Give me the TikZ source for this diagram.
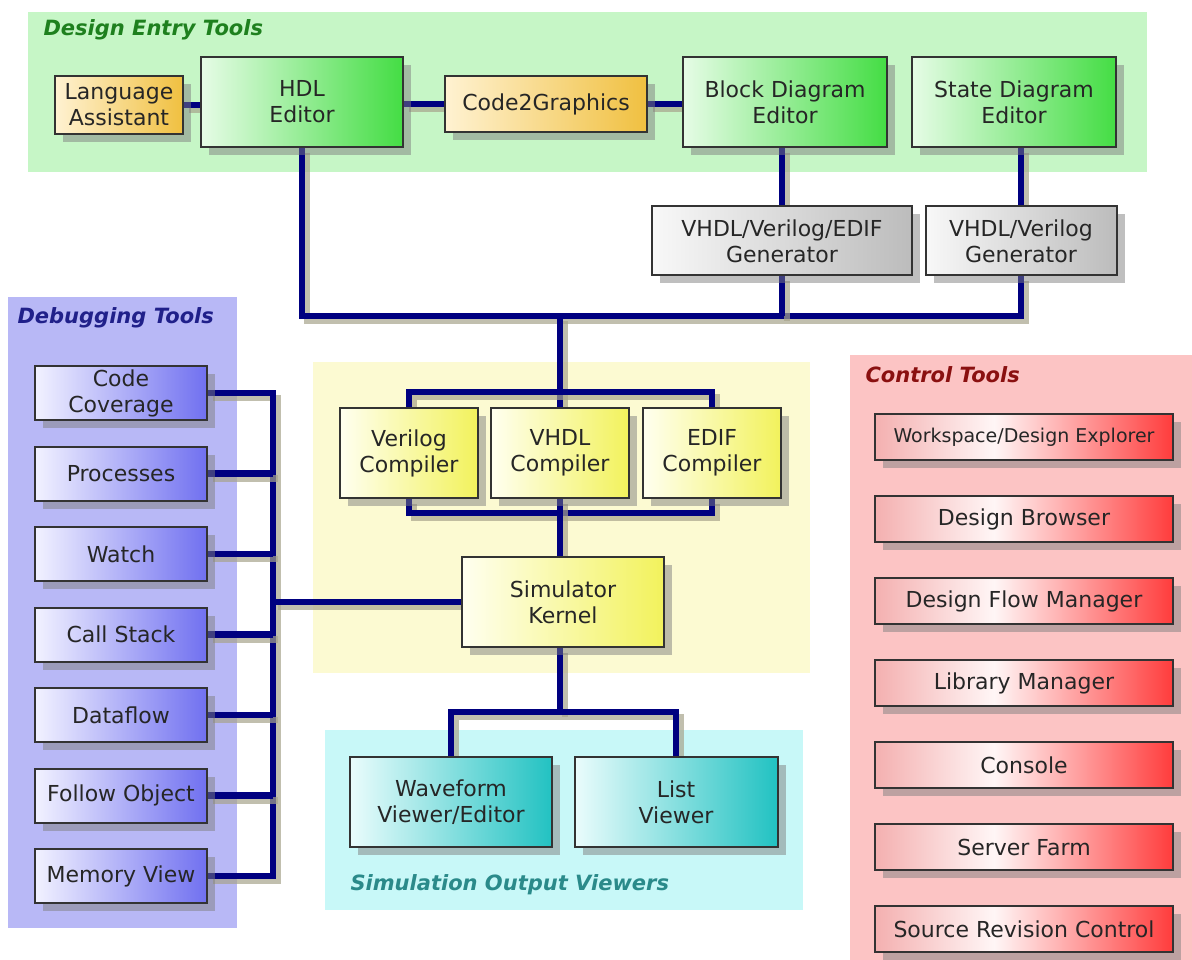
\documentclass[tikz,border=0pt]{standalone}
\usepackage{fontspec}
\setmainfont{DejaVu Sans}
\usetikzlibrary{shadows}

\pgfdeclarelayer{panels}
\pgfdeclarelayer{wires}
\pgfsetlayers{panels,wires,main}

\definecolor{wirecol}{HTML}{000080}
\definecolor{wireshd}{HTML}{A8A48C}
\definecolor{entrybg}{HTML}{C6F6C6}
\definecolor{debugbg}{HTML}{B8B8F6}
\definecolor{compbg}{HTML}{FCFAD2}
\definecolor{viewbg}{HTML}{C8F8F8}
\definecolor{ctrlbg}{HTML}{FCC4C4}
\definecolor{entryfg}{HTML}{1E801E}
\definecolor{debugfg}{HTML}{20208A}
\definecolor{viewfg}{HTML}{2A8A8A}
\definecolor{ctrlfg}{HTML}{8A1010}
\definecolor{grnL}{HTML}{E6FCE6}
\definecolor{grnR}{HTML}{44DD44}
\definecolor{orgL}{HTML}{FFF2D2}
\definecolor{orgR}{HTML}{F0C040}
\definecolor{grayL}{HTML}{F8F8F8}
\definecolor{grayR}{HTML}{BCBCBC}
\definecolor{ylwL}{HTML}{FFFFF0}
\definecolor{ylwR}{HTML}{F2F25C}
\definecolor{cynL}{HTML}{EAFCFC}
\definecolor{cynR}{HTML}{22C2C2}
\definecolor{bluL}{HTML}{F2F2FF}
\definecolor{bluR}{HTML}{7070F0}
\definecolor{redL}{HTML}{F4B0B0}
\definecolor{redM}{HTML}{FFF6F6}
\definecolor{redR}{HTML}{FF3C3C}

% white spot at about 40% of the width
\pgfdeclarehorizontalshading{redshade}{100bp}{color(0bp)=(redL); color(25bp)=(redL);
    color(45bp)=(redM); color(75bp)=(redR); color(100bp)=(redR)}

\begin{document}
\begin{tikzpicture}[x=1pt, y=-1pt,
    box/.style={draw=black!80, line width=2pt, align=center, inner sep=0pt,
        font=\fontsize{22}{26}\selectfont, text=black!85,
        drop shadow={shadow xshift=8pt, shadow yshift=-8pt, fill=black!50, opacity=0.5}},
    greenbox/.style={box, left color=grnL, right color=grnR},
    orangebox/.style={box, left color=orgL, right color=orgR},
    graybox/.style={box, left color=grayL, right color=grayR},
    yellowbox/.style={box, left color=ylwL, right color=ylwR,
        minimum width=138pt, minimum height=90pt},
    cyanbox/.style={box, left color=cynL, right color=cynR,
        minimum width=202pt, minimum height=90pt},
    bluebox/.style={box, left color=bluL, right color=bluR,
        minimum width=172pt, minimum height=54pt},
    redbox/.style={box, shading=redshade,
        minimum width=298pt, minimum height=46pt},
    wire/.style={draw=wirecol, line width=6.5pt, line join=miter,
        preaction={draw=wireshd, line width=6.5pt, opacity=0.7,
            transform canvas={shift={(5pt,-5pt)}}}},
    title/.style={anchor=west, font=\fontsize{21}{24}\selectfont\bfseries\itshape}
]
\useasboundingbox (0,0) rectangle (1192,960);

% panels
\begin{pgfonlayer}{panels}
    \fill[white] (0,0) rectangle (1192,960);
    \fill[entrybg] (28,12) rectangle (1147,172);
    \fill[debugbg] (8,297) rectangle (237,928);
    \fill[compbg] (313,362) rectangle (810,673);
    \fill[viewbg] (325,730) rectangle (803,910);
    \fill[ctrlbg] (850,355) rectangle (1192,960);
\end{pgfonlayer}

\node[title, text=entryfg] (entrytitle) at (40,30) {Design Entry Tools};
\node[title, text=debugfg] (debugtitle) at (14,318) {Debugging Tools};
\node[title, text=ctrlfg] (ctrltitle) at (862,375) {Control Tools};
\node[title, text=viewfg] (viewtitle) at (347,885) {Simulation Output Viewers};

% design entry tools
\node[orangebox, minimum width=128pt, minimum height=58pt] (lang) at (119,105) {Language\\Assistant};
\node[greenbox, minimum width=202pt, minimum height=90pt] (hdl) at (302,102) {HDL\\Editor};
\node[orangebox, minimum width=202pt, minimum height=56pt] (c2g) at (546,104) {Code2Graphics};
\node[greenbox, minimum width=204pt, minimum height=90pt] (bde) at (785,102) {Block Diagram\\Editor};
\node[greenbox, minimum width=204pt, minimum height=90pt] (sde) at (1014,102) {State Diagram\\Editor};

% generators
\node[graybox, minimum width=260pt, minimum height=69pt] (gen1) at (782,241) {VHDL/Verilog/EDIF\\Generator};
\node[graybox, minimum width=191pt, minimum height=69pt] (gen2) at (1021,241) {VHDL/Verilog\\Generator};

% compilers and kernel
\node[yellowbox] (verc) at (409,453) {Verilog\\Compiler};
\node[yellowbox] (vhdlc) at (560,453) {VHDL\\Compiler};
\node[yellowbox] (edifc) at (712,453) {EDIF\\Compiler};
\node[yellowbox, minimum width=202pt] (sim) at (563,602) {Simulator\\Kernel};

% output viewers
\node[cyanbox] (wave) at (451,802) {Waveform\\Viewer/Editor};
\node[cyanbox, minimum width=203pt] (list) at (676,802) {List\\Viewer};

% debugging tools
\foreach \name/\txt [count=\i from 0] in {cov/{Code\\Coverage}, proc/Processes, watch/Watch,
        stack/Call Stack, flow/Dataflow, follow/Follow Object, mem/Memory View}
    \node[bluebox] (\name) at (121,{393+80.5*\i}) {\txt};

% control tools
\foreach \name/\txt [count=\i from 0] in {wsp/{\fontsize{19}{22}\selectfont Workspace/Design Explorer},
        browser/Design Browser, flowmgr/Design Flow Manager, libmgr/Library Manager,
        console/Console, farm/Server Farm, src/Source Revision Control}
    \node[redbox] (\name) at (1024,{437+82*\i}) {\txt};

% connectors
\begin{pgfonlayer}{wires}
    \coordinate (bus) at (560,316);
    \coordinate (dbus) at (273,600);

    \draw[wire] (lang.east) -- (lang.east -| hdl.west);
    \draw[wire] (hdl.east |- c2g) -- (c2g.west);
    \draw[wire] (c2g.east) -- (c2g.east -| bde.west);
    \draw[wire] (bde.south -| gen1.north) -- (gen1.north);
    \draw[wire] (gen2.north |- sde.south) -- (gen2.north);

    \draw[wire] (hdl.south) |- (gen2.south |- bus) -- (gen2.south);
    \draw[wire] (gen1.south) -- (gen1.south |- bus);
    \draw[wire] (bus) -- (vhdlc.north);

    \draw[wire] (verc.north) -- ++(0,-15) -| (edifc.north);
    \draw[wire] (verc.south) -- ++(0,14) -| (edifc.south);
    \draw[wire] (vhdlc.south) -- (vhdlc.south |- sim.north);

    \draw[wire] (sim.south -| vhdlc) -- ++(0,64) coordinate (vbus);
    \draw[wire] (wave.north) |- (vbus) -| (list.north);

    \draw[wire] (cov.east) -- (cov.east -| dbus) -- (mem.east -| dbus) -- (mem.east);
    \foreach \name in {proc, watch, stack, flow, follow}
        \draw[wire] (\name.east) -- (\name.east -| dbus);
    \draw[wire] (sim.west) -- (sim.west -| dbus);
\end{pgfonlayer}

\end{tikzpicture}
\end{document}
